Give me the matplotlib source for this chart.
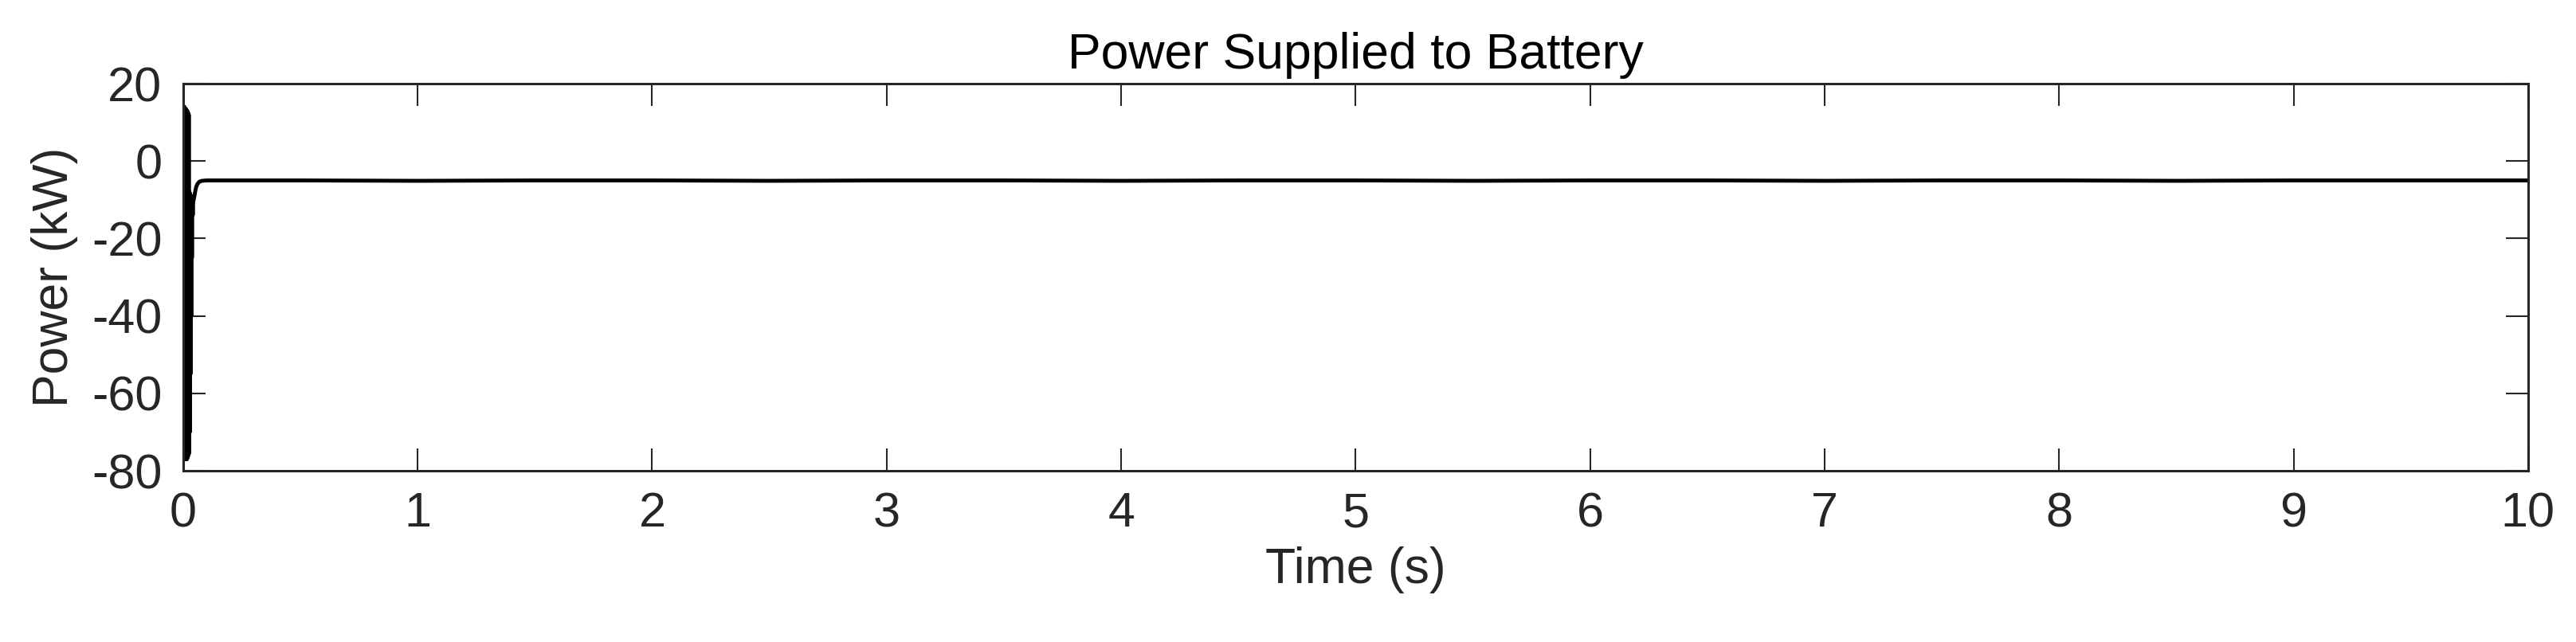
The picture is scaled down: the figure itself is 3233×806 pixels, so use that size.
import matplotlib
matplotlib.use("Agg")
import matplotlib.pyplot as plt

plt.rcParams['font.family'] = ['Liberation Sans', 'DejaVu Sans']
plt.rcParams['axes.unicode_minus'] = False

# start-up transient: fast swing between the two extremes, then settling
t_start = [0.0000, 0.0015, 0.0030, 0.0045, 0.0060, 0.0075, 0.0090, 0.0105,
           0.0120, 0.0135, 0.0150, 0.0165, 0.0180, 0.0195, 0.0210, 0.0225,
           0.0240, 0.0255, 0.0270, 0.0285, 0.0300, 0.0315, 0.0330, 0.0345,
           0.0360, 0.0375, 0.0390, 0.0410, 0.0430, 0.0450, 0.0480, 0.0510,
           0.0550, 0.0600, 0.0650, 0.0700, 0.0800]
p_start = [14.0, -77.0, 14.0, -77.0, 14.0, -77.0, 13.5, -77.0,
           13.5, -77.0, 13.0, -77.0, 13.0, -76.5, 12.5, -76.0,
           12.0, -75.5, -8.0, -70.0, -8.5, -55.0, -9.0, -40.0,
           -9.5, -25.0, -10.0, -14.0, -10.5, -10.0, -9.0, -8.0,
           -6.8, -6.0, -5.6, -5.3, -5.1]

# steady state after the transient
t_steady = [0.1, 0.5, 1.0, 1.5, 2.0, 2.5, 3.0, 3.5, 4.0, 4.5, 5.0,
            5.5, 6.0, 6.5, 7.0, 7.5, 8.0, 8.5, 9.0, 9.5, 10.0]
p_steady = [-5.0, -5.0, -5.1, -5.0, -5.0, -5.1, -5.0, -5.0, -5.1, -5.0, -5.0,
            -5.1, -5.0, -5.0, -5.1, -5.0, -5.0, -5.1, -5.0, -5.0, -5.0]

x_ticks = [0, 1, 2, 3, 4, 5, 6, 7, 8, 9, 10]
y_ticks = [20, 0, -20, -40, -60, -80]

axis_col = '#262626'

fig = plt.figure(figsize=(32.33, 8.06), dpi=100)
ax = fig.add_axes([0.0711, 0.2667, 0.9103, 0.6030])

ax.plot(t_start + t_steady, p_start + p_steady, color='black', linewidth=3.5)

ax.set_xlim(0, 10)
ax.set_ylim(-80, 20)
ax.set_xticks(x_ticks)
ax.set_yticks(y_ticks)

ax.tick_params(direction='in', length=20, width=1.5, labelsize=44,
               colors=axis_col, top=True, right=True, pad=19)
for s in ax.spines.values():
    s.set_linewidth(2.2)
    s.set_color(axis_col)

ax.set_title('Power Supplied to Battery', fontsize=45, color='black', pad=14)
ax.set_xlabel('Time (s)', fontsize=45, color=axis_col, labelpad=8)
ax.set_ylabel('Power (kW)', fontsize=45, color=axis_col, labelpad=12)

fig.savefig('out.png', dpi=100, facecolor='white')
